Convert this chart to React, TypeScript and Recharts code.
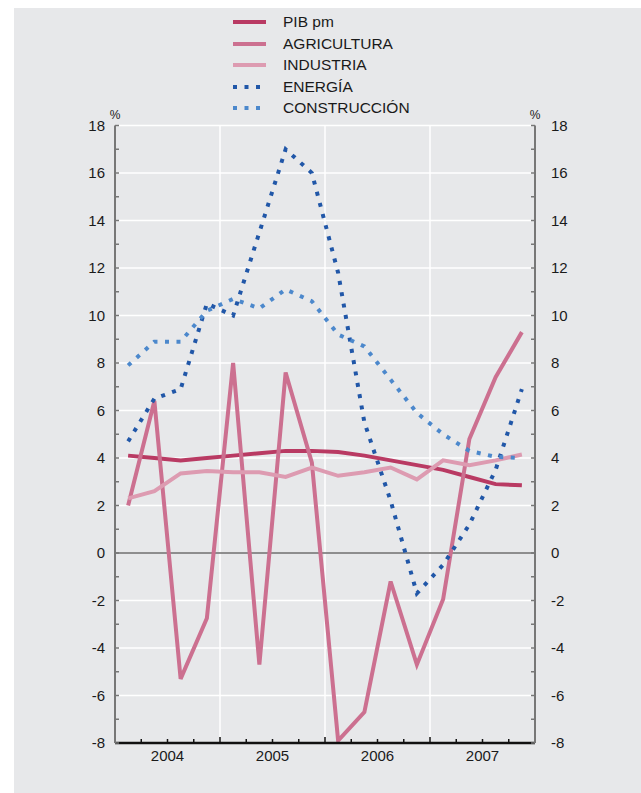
import React from "react"
import { LineChart, Line, XAxis, YAxis, CartesianGrid, ReferenceLine } from "recharts"

// quarterly series, 2004 Q1 .. 2007 Q4 (% change)
const years = ["2004", "2005", "2006", "2007"]
const quarters = ["I", "II", "III", "IV"]

const pibPm = [4.1, 4.0, 3.9, 4.0, 4.1, 4.2, 4.3, 4.3, 4.25, 4.1, 3.9, 3.7, 3.5, 3.2, 2.9, 2.85]
const agricultura = [2.0, 6.4, -5.3, -2.75, 8.0, -4.7, 7.6, 3.8, -7.9, -6.7, -1.2, -4.7, -1.95, 4.8, 7.4, 9.3]
const industria = [2.3, 2.6, 3.35, 3.45, 3.4, 3.4, 3.2, 3.6, 3.25, 3.4, 3.6, 3.1, 3.9, 3.7, 3.9, 4.15]
const energia = [4.7, 6.5, 6.9, 10.5, 10.0, 13.5, 17.0, 16.0, 11.8, 5.5, 2.2, -1.7, -0.5, 1.2, 3.5, 6.9]
const construccion = [7.9, 8.9, 8.9, 10.2, 10.7, 10.3, 11.1, 10.6, 9.2, 8.7, 7.3, 5.9, 5.0, 4.3, 4.05, 4.0]

const yTicks = [-8, -7, -6, -5, -4, -3, -2, -1, 0, 1, 2, 3, 4, 5, 6, 7, 8, 9, 10, 11, 12, 13, 14, 15, 16, 17, 18]
const yLabels = [-8, -6, -4, -2, 0, 2, 4, 6, 8, 10, 12, 14, 16, 18]

const series = [
  { key: "pib", name: "PIB pm", values: pibPm, color: "#b93a63", dash: undefined },
  { key: "agri", name: "AGRICULTURA", values: agricultura, color: "#cc7090", dash: undefined },
  { key: "ind", name: "INDUSTRIA", values: industria, color: "#dd9bb1", dash: undefined },
  { key: "ener", name: "ENERGÍA", values: energia, color: "#2157a8", dash: "4 7.5" },
  { key: "cons", name: "CONSTRUCCIÓN", values: construccion, color: "#4c88cc", dash: "4 7.5" },
]

const data = years.flatMap((year, yi) =>
  quarters.map((q, qi) => {
    const i = yi * 4 + qi
    const row: Record<string, number | string> = { period: `${q} ${year}`, x: i + 0.5 }
    series.forEach((s) => (row[s.key] = s.values[i]))
    return row
  })
)

const quarterEdges = Array.from({ length: years.length * 4 + 1 }, (_, i) => i)
const yearEdges = years.slice(1).map((_, i) => (i + 1) * 4)

const font = '"Liberation Sans", Arial, Helvetica, sans-serif'
const textColor = "#1a1a1a"

function XTick({ x, y, payload }: any) {
  const v = payload.value
  const yearIdx = (v - 2) / 4
  const inner = v > 0 && v < years.length * 4
  return (
    <g>
      {inner && (
        <line x1={x} x2={x} y1={y} y2={y - (v % 4 === 0 ? 6 : 4)} stroke="#111" strokeWidth={1.5} />
      )}
      {Number.isInteger(yearIdx) && years[yearIdx] && (
        <text x={x} y={y + 13} dy="0.355em" textAnchor="middle" fontSize={15} fontFamily={font} fill={textColor}>
          {years[yearIdx]}
        </text>
      )}
    </g>
  )
}

function makeYTick(side: "left" | "right", gap: number) {
  return function YTick({ x, y, payload }: any) {
    const v = payload.value
    const axisX = side === "left" ? x + gap : x - gap
    const dir = side === "left" ? 1 : -1
    return (
      <g>
        <line x1={axisX} x2={axisX + dir * 4} y1={y} y2={y} stroke="#777" strokeWidth={1.5} />
        {yLabels.includes(v) && (
          <text
            x={x}
            y={y}
            dy="0.355em"
            textAnchor={side === "left" ? "end" : "start"}
            fontSize={15}
            fontFamily={font}
            fill={textColor}
          >
            {v}
          </text>
        )}
      </g>
    )
  }
}

const LeftTick = makeYTick("left", 10)
const RightTick = makeYTick("right", 16)

function LegendBox() {
  return (
    <div style={{ position: "absolute", left: 219, top: 3.5, fontFamily: font }}>
      {series.map((s) => (
        <div key={s.key} style={{ display: "flex", alignItems: "center", height: 21.5 }}>
          <svg width={33} height={8} style={{ display: "block" }}>
            <line x1={0} x2={33} y1={4} y2={4} stroke={s.color} strokeWidth={4} strokeDasharray={s.dash} />
          </svg>
          <span style={{ marginLeft: 17, fontSize: 15.5, color: textColor, whiteSpace: "nowrap" }}>{s.name}</span>
        </div>
      ))}
    </div>
  )
}

export default function App() {
  const pctStyle: React.CSSProperties = {
    position: "absolute",
    top: 100.5,
    fontSize: 12,
    lineHeight: "12px",
    fontFamily: font,
    color: textColor,
    transform: "translateX(-50%)",
  }
  return (
    <div style={{ position: "absolute", left: 14, top: 8, width: 627, height: 785, background: "#e7e8ea" }}>
      <LegendBox />
      <div style={{ ...pctStyle, left: 101 }}>%</div>
      <div style={{ ...pctStyle, left: 521 }}>%</div>
      <LineChart width={627} height={785} data={data} margin={{ top: 117.5, right: 56, left: 51, bottom: 20 }}>
        <CartesianGrid
          yAxisId="left"
          stroke="#ffffff"
          strokeWidth={1.5}
          horizontalValues={yLabels}
          verticalValues={yearEdges}
        />
        <XAxis
          dataKey="x"
          type="number"
          domain={[0, years.length * 4]}
          ticks={quarterEdges}
          interval={0}
          height={30}
          tickSize={0}
          tickMargin={0}
          tick={<XTick />}
          axisLine={{ stroke: "#111", strokeWidth: 2.5 }}
          tickLine={false}
        />
        <YAxis
          yAxisId="left"
          orientation="left"
          domain={[-8, 18]}
          ticks={yTicks}
          interval={0}
          width={50}
          tickSize={0}
          tickMargin={10}
          tick={<LeftTick />}
          tickLine={false}
          axisLine={{ stroke: "#777", strokeWidth: 2 }}
          allowDataOverflow
        />
        <YAxis
          yAxisId="right"
          orientation="right"
          domain={[-8, 18]}
          ticks={yTicks}
          interval={0}
          width={50}
          tickSize={0}
          tickMargin={16}
          tick={<RightTick />}
          tickLine={false}
          axisLine={{ stroke: "#777", strokeWidth: 2 }}
          allowDataOverflow
        />
        <ReferenceLine yAxisId="left" y={0} stroke="#222" strokeWidth={1} />
        {series.map((s) => (
          <Line
            key={s.key}
            yAxisId="left"
            dataKey={s.key}
            name={s.name}
            type="linear"
            stroke={s.color}
            strokeWidth={4}
            strokeDasharray={s.dash}
            dot={false}
            activeDot={false}
            isAnimationActive={false}
          />
        ))}
      </LineChart>
    </div>
  )
}
